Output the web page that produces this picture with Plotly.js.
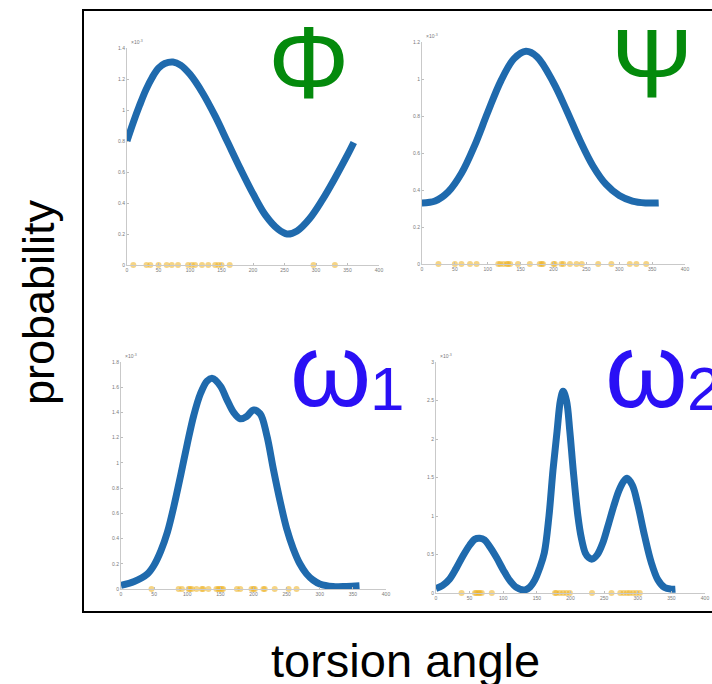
<!DOCTYPE html>
<html>
<head>
<meta charset="utf-8">
<script src="https://cdn.plot.ly/plotly-3.0.1.min.js"></script>
<style>html,body{margin:0;padding:0;background:#fff;}#plot{width:712px;height:684px;}</style>
</head>
<body>
<div id="plot"></div>
<script>
// ---- data (probability values in units of 1e-3, angles in degrees) ----
const phiAngle = [0, 10, 20, 30, 40, 50, 60, 73, 85, 100, 120, 140, 160, 180, 200, 220, 240, 254, 270, 290, 310, 330, 350, 360];
const phiProb  = [0.80, 0.92, 1.03, 1.13, 1.21, 1.27, 1.30, 1.31, 1.29, 1.23, 1.11, 0.96, 0.79, 0.62, 0.46, 0.32, 0.23, 0.20, 0.22, 0.30, 0.42, 0.56, 0.71, 0.79];
const phiRug   = [10, 31, 37, 50, 63, 71, 81, 97, 103, 108, 119, 129, 140, 145, 150, 163, 296, 330];

const psiAngle = [0, 20, 40, 60, 80, 100, 120, 140, 158, 175, 200, 220, 240, 260, 280, 300, 320, 340, 360];
const psiProb  = [0.33, 0.34, 0.39, 0.49, 0.64, 0.82, 0.99, 1.11, 1.15, 1.12, 0.98, 0.83, 0.67, 0.53, 0.43, 0.37, 0.34, 0.33, 0.33];
const psiRug   = [25, 50, 60, 73, 83, 116, 119, 124, 129, 131, 134, 146, 164, 179, 182, 184, 200, 202, 212, 215, 225, 235, 243, 268, 288, 316, 326, 341];

const w1Angle = [0, 20, 40, 50, 60, 70, 80, 90, 100, 110, 120, 130, 138, 150, 160, 170, 180, 190, 200, 210, 220, 230, 240, 250, 260, 270, 280, 290, 300, 320, 340, 360];
const w1Prob  = [0.03, 0.06, 0.12, 0.19, 0.30, 0.45, 0.66, 0.90, 1.15, 1.38, 1.55, 1.65, 1.67, 1.61, 1.50, 1.40, 1.35, 1.37, 1.42, 1.39, 1.22, 0.95, 0.70, 0.48, 0.32, 0.20, 0.12, 0.07, 0.04, 0.02, 0.02, 0.025];
const w1Rug   = [46, 87, 92, 102, 104, 107, 114, 122, 124, 132, 144, 147, 149, 152, 154, 175, 180, 197, 200, 202, 215, 217, 232, 253, 265];

const w2Angle = [0, 10, 20, 30, 40, 50, 58, 65, 72, 80, 90, 100, 110, 120, 132, 140, 147, 154, 161, 168, 174, 180, 185, 189, 194, 199, 204, 211, 216, 222, 227, 232, 240, 248, 256, 264, 272, 279, 284, 292, 300, 310, 320, 330, 340, 350, 356];
const w2Prob  = [0.06, 0.10, 0.18, 0.32, 0.48, 0.62, 0.70, 0.71, 0.69, 0.60, 0.46, 0.30, 0.16, 0.07, 0.04, 0.08, 0.17, 0.32, 0.52, 1.00, 1.60, 2.10, 2.50, 2.62, 2.50, 2.10, 1.60, 1.00, 0.72, 0.52, 0.46, 0.44, 0.50, 0.65, 0.88, 1.12, 1.33, 1.45, 1.49, 1.40, 1.15, 0.75, 0.40, 0.17, 0.07, 0.05, 0.05];
const w2Rug   = [38, 58, 60, 63, 65, 68, 83, 177, 179, 184, 189, 194, 199, 232, 261, 274, 279, 284, 288, 293, 298, 303];

const xTicks = [0, 50, 100, 150, 200, 250, 300, 350, 400];
const phiTicks = [0, 0.2, 0.4, 0.6, 0.8, 1, 1.2, 1.4];
const psiTicks = [0, 0.2, 0.4, 0.6, 0.8, 1, 1.2];
const w1Ticks  = [0, 0.2, 0.4, 0.6, 0.8, 1, 1.2, 1.4, 1.6, 1.8];
const w2Ticks  = [0, 0.5, 1, 1.5, 2, 2.5, 3];

const panelSymbols = ['Φ', 'Ψ', 'ω', 'ω'];
const panelSubs = ['', '', '1', '2'];
const xLabel = 'torsion angle';
const yLabel = 'probability';
const expLabel = '×10<sup>-3</sup>';

// ---- styling ----
const W = 712, H = 684;
const FONT = 'Liberation Sans, Arial, sans-serif';
const curveColor = '#1f6aad';
const rugColor = 'rgba(237,177,32,0.55)';
const green = '#048a0c';
const blue = '#2a10f5';
const px = v => v / W;
const py = v => (H - v) / H;

// panel pixel boxes: [xLeft, xRight, yTop(range max), yBottom(0), ymax]
const boxes = [
  [127, 379, 48, 265, 1.4],
  [422, 685, 42, 264, 1.2],
  [121, 386, 362, 589, 1.8],
  [436, 705, 362, 593, 3]
];
const yTicksList = [phiTicks, psiTicks, w1Ticks, w2Ticks];
const curves = [[phiAngle, phiProb], [psiAngle, psiProb], [w1Angle, w1Prob], [w2Angle, w2Prob]];
const rugs = [phiRug, psiRug, w1Rug, w2Rug];

const traces = [];
const layout = {
  width: W, height: H, autosize: false,
  margin: {l: 0, r: 0, t: 0, b: 0},
  paper_bgcolor: '#fff', plot_bgcolor: 'rgba(0,0,0,0)',
  showlegend: false,
  annotations: [], shapes: []
};

boxes.forEach((b, i) => {
  const n = i === 0 ? '' : String(i + 1);
  const xa = 'x' + n, ya = 'y' + n;
  traces.push({
    x: rugs[i], y: rugs[i].map(() => 0), xaxis: xa, yaxis: ya,
    type: 'scatter', mode: 'markers', cliponaxis: false,
    marker: {size: 6, color: rugColor, line: {width: 0}}
  });
  traces.push({
    x: curves[i][0], y: curves[i][1], xaxis: xa, yaxis: ya,
    type: 'scatter', mode: 'lines', cliponaxis: false,
    line: {color: curveColor, width: 7, shape: 'spline', smoothing: 1}
  });
  const axCommon = {
    showline: true, linecolor: '#c9c9c9', linewidth: 1, zeroline: false, showgrid: false,
    ticks: 'inside', ticklen: 2, tickcolor: '#bdbdbd',
    tickfont: {size: 5, color: '#7a7a7a', family: FONT},
    fixedrange: true
  };
  layout['xaxis' + n] = Object.assign({}, axCommon, {
    domain: [px(b[0]), px(b[1])], anchor: ya, range: [0, 400],
    tickmode: 'array', tickvals: xTicks, ticktext: xTicks.map(String)
  });
  layout['yaxis' + n] = Object.assign({}, axCommon, {
    domain: [py(b[3]), py(b[2])], anchor: xa, range: [0, b[4]],
    tickmode: 'array', tickvals: yTicksList[i], ticktext: yTicksList[i].map(String)
  });
  layout.annotations.push({
    xref: 'paper', yref: 'paper', x: px(b[0] + 2), y: py(b[2] - 1),
    xanchor: 'left', yanchor: 'bottom', text: expLabel, showarrow: false,
    font: {size: 5, color: '#7a7a7a', family: FONT}
  });
});

// panel symbols: [centerX, centerY, color, size]
const symPos = [[308, 63, green, 102], [652, 64, green, 98], [330, 370, blue, 104], [646, 370, blue, 106]];
const subPos = [null, null, [387, 389, blue, 62], [704, 388, blue, 62]];
symPos.forEach((p, i) => {
  layout.annotations.push({
    xref: 'paper', yref: 'paper', x: px(p[0]), y: py(p[1]),
    xanchor: 'center', yanchor: 'middle', text: panelSymbols[i], showarrow: false,
    font: {size: p[3], color: p[2], family: FONT}
  });
  const s = subPos[i];
  if (s) {
    layout.annotations.push({
      xref: 'paper', yref: 'paper', x: px(s[0]), y: py(s[1]),
      xanchor: 'center', yanchor: 'middle', text: panelSubs[i], showarrow: false,
      font: {size: s[3], color: s[2], family: FONT}
    });
  }
});

layout.annotations.push({
  xref: 'paper', yref: 'paper', x: px(38), y: py(302), textangle: -90,
  xanchor: 'center', yanchor: 'middle', text: yLabel, showarrow: false,
  font: {size: 45, color: '#000', family: FONT}
});
layout.annotations.push({
  xref: 'paper', yref: 'paper', x: px(405), y: py(660),
  xanchor: 'center', yanchor: 'middle', text: xLabel, showarrow: false,
  font: {size: 47, color: '#000', family: FONT}
});

// outer frame
layout.shapes.push({
  type: 'rect', xref: 'paper', yref: 'paper',
  x0: px(83), x1: px(730), y0: py(612), y1: py(10),
  line: {color: '#000', width: 2}, fillcolor: 'rgba(0,0,0,0)'
});

Plotly.newPlot('plot', traces, layout, {staticPlot: true, displayModeBar: false});
</script>
</body>
</html>
